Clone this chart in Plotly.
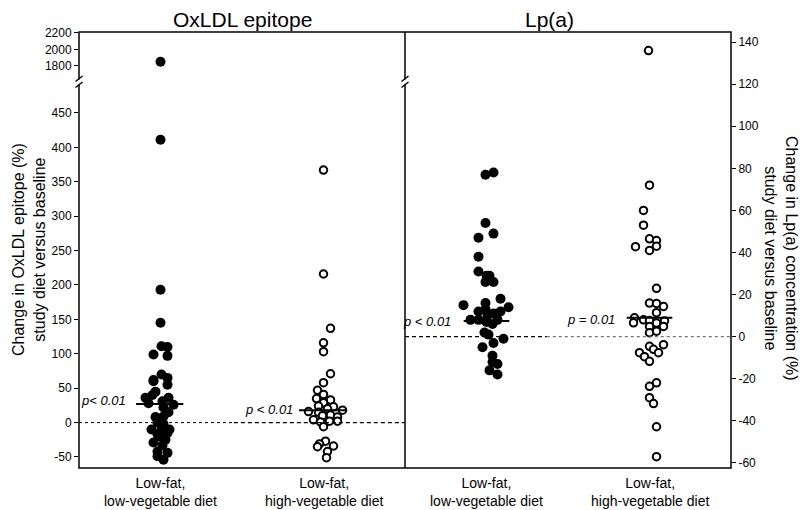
import plotly.graph_objects as go

# ---------------- data ----------------
categories = ["Low-fat,<br>low-vegetable diet", "Low-fat,<br>high-vegetable diet"]

oxldl_lowveg = [1850, 411, 193, 145, 111, 110, 99, 97, 70, 65, 62, 60, 55, 45, 40, 36, 36, 31,
                28, 26, 22, 15, 9, 8, 0, -2, -10, -11, -10, -15, -17, -20, -25, -29, -33, -42,
                -44, -49, -54]
oxldl_lowveg_jit = [0, 0, 0, 0, 1, 7, -7, 7, 1, 7, -7, -7, 7, -5, -8, -15, 8, 2,
                    -12, 13, 3, 8, 3, -5, -3, 3, -9, 1, 9, 7, -3, -1, 5, -7, 2, -3,
                    7, -3, 3]

oxldl_highveg = [367, 216, 137, 116, 103, 71, 58, 47, 41, 35, 33, 29, 24, 23, 20, 18, 16, 15,
                 11, 10, 8, 4, 2, 2, 1, -6, -27, -31, -35, -34, -42, -51]
oxldl_highveg_jit = [0, 0, 7, 0, 0, 7, 0, -6, 0, -7, 7, 0, -5, 10, 4, 19, -15, -5,
                     7, -1, 14, -10, 14, 6, -3, 0, 2, -4, -6, 10, 4, 3]

lpa_lowveg = [78, 77, 54, 49, 47, 38, 31, 29, 29, 26, 26, 18, 16, 15, 14, 13, 12, 12, 11, 10,
              8, 8, 8, 7, 6, 2, 1, -1, -3, -5, -9, -12, -13, -16, -18]
lpa_lowveg_jit = [7, -1, -1, 7, -8, -8, -8, 0, 3, -1, 7, 14, -1, -23, 22, -1, -8, 14, 7, 1,
                  -16, -8, 11, 0, 6, -2, 2, 17, 7, -4, 6, 6, 11, 3, 11]

lpa_highveg = [136, 72, 60, 53, 46.5, 45.7, 42.8, 43, 41, 23, 16, 15.8, 14.4, 11.4, 9, 8, 7.7,
               7.5, 6.6, 6.5, 4.9, 4.9, 2.6, 1.9, -3.8, -4.6, -6, -7.6, -7.6, -9.5, -11.7,
               -21.9, -23.6, -29, -31.8, -42.8, -57]
lpa_highveg_jit = [-1, 0, -6, -6, 0, 7, -14, 7, 0, 7, 0, 7, 14, 7, -15, -6, 0,
                   15, -16, 7, 0, 14, 7, 0, 14, 0, 4, -10, 9, -5, 0,
                   7, 0, 0, 4, 7, 7]

oxldl_medians = [27, 18]
lpa_medians = [7.5, 9]
oxldl_pvals = ["p< 0.01", "p < 0.01"]
lpa_pvals = ["p < 0.01", "p = 0.01"]

oxldl_lower_ticks = [-50, 0, 50, 100, 150, 200, 250, 300, 350, 400, 450]
oxldl_upper_ticks = [1800, 2000, 2200]
lpa_ticks = [-60, -40, -20, 0, 20, 40, 60, 80, 100, 120, 140]

# ---------------- styling / layout constants ----------------
FONT = "Arial, Liberation Sans, sans-serif"
W, H = 800, 510
ML, MR, MT, MB = 79, 69, 32, 42
PW, PH = W - ML - MR, H - MT - MB
JIT = 1.0 / 163.0          # jitter step (one screen pixel in category units)
BREAK_VALUE = 1000
BREAK_FRAC = 0.8876

def px2paper(px, py):
    return (px - ML) / PW, (H - MB - py) / PH

fig = go.Figure()

def add_group(vals, jit, xc, xaxis, yaxis_lo, yaxis_hi, filled):
    lo = [(xc + j * JIT, v) for v, j in zip(vals, jit) if v < BREAK_VALUE]
    hi = [(xc + j * JIT, v) for v, j in zip(vals, jit) if v >= BREAK_VALUE]
    if filled:
        marker = dict(size=10, color="black", line=dict(width=0))
    else:
        marker = dict(size=7.5, color="white", line=dict(width=2, color="black"))
    for pts, ya in ((lo, yaxis_lo), (hi, yaxis_hi)):
        if not pts:
            continue
        fig.add_trace(go.Scatter(x=[p[0] for p in pts], y=[p[1] for p in pts],
                                 mode="markers", marker=marker, xaxis=xaxis, yaxis=ya,
                                 hoverinfo="skip", showlegend=False))

add_group(oxldl_lowveg, oxldl_lowveg_jit, 1, "x", "y", "y2", True)
add_group(oxldl_highveg, oxldl_highveg_jit, 2, "x", "y", "y2", False)
add_group(lpa_lowveg, lpa_lowveg_jit, 1, "x2", "y3", "y3", True)
add_group(lpa_highveg, lpa_highveg_jit, 2, "x2", "y3", "y3", False)

shapes = []
# medians
for i, m in enumerate(oxldl_medians):
    shapes.append(dict(type="line", xref="x", yref="y", x0=i + 1 - 0.15, x1=i + 1 + 0.14,
                       y0=m, y1=m, line=dict(color="black", width=2)))
for i, m in enumerate(lpa_medians):
    shapes.append(dict(type="line", xref="x2", yref="y3", x0=i + 1 - 0.14, x1=i + 1 + 0.14,
                       y0=m, y1=m, line=dict(color="black", width=2)))
# zero reference lines
shapes += [
    dict(type="line", xref="x", yref="y", x0=0.5, x1=1.45, y0=0, y1=0,
         line=dict(color="black", width=1, dash="dot")),
    dict(type="line", xref="x", yref="y", x0=1.45, x1=2.5, y0=0, y1=0,
         line=dict(color="black", width=1.2, dash="4px,3px")),
    dict(type="line", xref="x2", yref="y3", x0=0.5, x1=1.37, y0=0, y1=0,
         line=dict(color="black", width=1.2, dash="4px,3px")),
    dict(type="line", xref="x2", yref="y3", x0=1.37, x1=2.5, y0=0, y1=0,
         line=dict(color="#555555", width=1, dash="dot")),
]
# frame
shapes.append(dict(type="rect", xref="paper", yref="paper", x0=0, x1=1, y0=0, y1=1,
                   line=dict(color="black", width=1.5)))
shapes.append(dict(type="line", xref="paper", yref="paper", x0=0.5, x1=0.5, y0=0, y1=1,
                   line=dict(color="black", width=1.5)))
# axis break marks
for bx in (ML, ML + PW / 2):
    gx0, gy0 = px2paper(bx, 79.5)
    gx1, gy1 = px2paper(bx, 84.5)
    shapes.append(dict(type="line", xref="paper", yref="paper", x0=gx0, x1=gx1, y0=gy0, y1=gy1,
                       line=dict(color="white", width=4)))
    for off in (0, 6):
        ax0, ay0 = px2paper(bx - 3.5, 81.5 + off)
        ax1, ay1 = px2paper(bx + 3.5, 76 + off)
        shapes.append(dict(type="line", xref="paper", yref="paper", x0=ax0, x1=ax1,
                           y0=ay0, y1=ay1, line=dict(color="black", width=1.5)))

annotations = []
# titles
for txt, cx in (("OxLDL epitope", 242), ("Lp(a)", 549)):
    tx, ty = px2paper(cx, 19)
    annotations.append(dict(text=txt, xref="paper", yref="paper", x=tx, y=ty,
                            xanchor="center", yanchor="middle", showarrow=False,
                            font=dict(size=21, family=FONT, color="black")))
# axis titles
ax_, ay_ = px2paper(29, 250)
annotations.append(dict(text="Change in OxLDL epitope (%)<br>study diet versus baseline",
                        xref="paper", yref="paper", x=ax_, y=ay_, textangle=-90, showarrow=False,
                        xanchor="center", yanchor="middle",
                        font=dict(size=16, family=FONT, color="black")))
ax_, ay_ = px2paper(781, 258)
annotations.append(dict(text="Change in Lp(a) concentration (%)<br>study diet versus baseline",
                        xref="paper", yref="paper", x=ax_, y=ay_, textangle=90, showarrow=False,
                        xanchor="center", yanchor="middle",
                        font=dict(size=16, family=FONT, color="black")))
# category labels
_, cy = px2paper(0, 473)
for xr in ("x", "x2"):
    for i, c in enumerate(categories):
        annotations.append(dict(text=c, xref=xr, yref="paper", x=i + 1, y=cy,
                                xanchor="center", yanchor="top",
                                showarrow=False, font=dict(size=14, family=FONT, color="black")))
# p values
pv_pos_ox = [(0.80, 32), (1.825, 19)]
pv_pos_lp = [(0.794, 7.1), (1.80, 8)]
for t, (x, y) in zip(oxldl_pvals, pv_pos_ox):
    annotations.append(dict(text="<i>" + t + "</i>", xref="x", yref="y", x=x, y=y,
                            xanchor="right", yanchor="middle",
                            showarrow=False, font=dict(size=13, family=FONT, color="black")))
for t, (x, y) in zip(lpa_pvals, pv_pos_lp):
    annotations.append(dict(text="<i>" + t + "</i>", xref="x2", yref="y3", x=x, y=y,
                            xanchor="right", yanchor="middle",
                            showarrow=False, font=dict(size=13, family=FONT, color="black")))

tickfont = dict(size=12, family=FONT, color="black")
common_x = dict(range=[0.5, 2.5], showticklabels=False, showgrid=False, zeroline=False,
                showline=False, ticks="", fixedrange=True)
common_y = dict(showgrid=False, zeroline=False, showline=False, ticks="outside", ticklen=4,
                tickcolor="black", tickwidth=1, tickfont=tickfont, fixedrange=True)

fig.update_layout(
    width=W, height=H,
    margin=dict(l=ML, r=MR, t=MT, b=MB),
    paper_bgcolor="white", plot_bgcolor="white",
    font=dict(family=FONT, color="black"),
    xaxis=dict(domain=[0, 0.5], anchor="y", **common_x),
    xaxis2=dict(domain=[0.5, 1], anchor="y3", **common_x),
    yaxis=dict(domain=[0, BREAK_FRAC], range=[-66, 496.5], anchor="x",
               tickvals=oxldl_lower_ticks, ticktext=[str(t) for t in oxldl_lower_ticks], **common_y),
    yaxis2=dict(domain=[BREAK_FRAC, 1], range=[1617, 2210], anchor="x",
                tickvals=oxldl_upper_ticks, ticktext=[str(t) for t in oxldl_upper_ticks], **common_y),
    yaxis3=dict(domain=[0, 1], range=[-62.4, 144.8], anchor="x2", side="right",
                tickvals=lpa_ticks, ticktext=[str(t) for t in lpa_ticks], **common_y),
    shapes=shapes, annotations=annotations,
)

fig.write_html("out.html", config={"displayModeBar": False},
               post_script="document.body.style.margin='0';document.body.style.overflow='hidden';")
